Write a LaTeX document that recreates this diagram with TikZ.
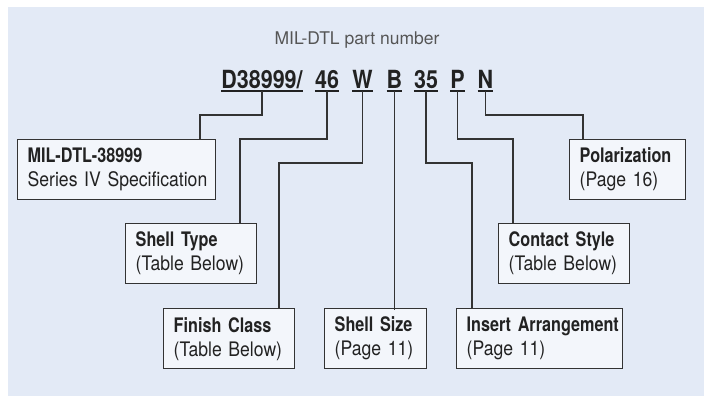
\documentclass[tikz,border=0pt]{standalone}
\usepackage{fontspec}
\setmainfont{TeX Gyre Heros}[FakeStretch=0.88,BoldFeatures={FakeStretch=0.81}]
\newfontfamily\titlefont{TeX Gyre Heros}
\newfontfamily\codefont{TeX Gyre Heros}[FakeStretch=0.86]
\usetikzlibrary{positioning}
\definecolor{panelblue}{RGB}{227,234,246}
\definecolor{boxfill}{RGB}{243,246,251}
\definecolor{linegray}{RGB}{51,51,51}
\definecolor{textdark}{RGB}{34,34,34}
\definecolor{titlegray}{RGB}{85,85,85}
\newcommand{\boxtext}[2]{\mbox{\textbf{#1}}\\\mbox{#2}}

\begin{document}
\begin{tikzpicture}[x=1pt,y=1pt]
  \tikzstyle{pbox}=[rectangle,draw=linegray,line width=1.4pt,fill=boxfill,anchor=north west,minimum height=60pt,inner xsep=10pt,align=left,text=textdark,font=\fontsize{20}{24}\selectfont]
  \tikzstyle{code}=[anchor=base,inner sep=0pt,text=textdark,font=\codefont\fontsize{25}{30}\selectfont\bfseries]
  \tikzstyle{link}=[draw=linegray,line width=1.4pt]
  \tikzstyle{uline}=[draw=textdark,line width=2pt]
  \useasboundingbox (0,0) rectangle (704,396);
  \fill[panelblue] (8,0) rectangle (704,389);
  \node[anchor=base,text=titlegray,font=\titlefont\fontsize{17.5}{20}\selectfont] (title) at (357,351) {MIL-DTL part number};
  % part number fields
  \node[code] (prefix) at (262,307) {D38999/};
  \node[code] (typecode) at (327,307) {46};
  \node[code] (finishcode) at (362.5,307) {W};
  \node[code] (sizecode) at (394.5,307) {B};
  \node[code] (insertcode) at (426,307) {35};
  \node[code] (contactcode) at (457.5,307) {P};
  \node[code] (polarcode) at (485.5,307) {N};
  \foreach \n in {prefix,typecode,finishcode,sizecode,insertcode,contactcode,polarcode}
    \draw[uline] ([yshift=-2.5pt]\n.base west) -- ([yshift=-2.5pt]\n.base east);
  % description boxes
  \node[pbox,text width=178pt] (spec) at (17,257) {\boxtext{MIL-DTL-38999}{Series IV Specification}};
  \node[pbox,text width=111pt] (shelltype) at (125,173) {\boxtext{Shell Type}{(Table Below)}};
  \node[pbox,text width=111pt] (finish) at (163,88) {\boxtext{Finish Class}{(Table Below)}};
  \node[pbox,text width=82pt] (shellsize) at (324,88) {\boxtext{Shell Size}{(Page 11)}};
  \node[pbox,text width=146pt] (insert) at (456,88) {\boxtext{Insert Arrangement}{(Page 11)}};
  \node[pbox,text width=111pt] (contact) at (498,173) {\boxtext{Contact Style}{(Table Below)}};
  \node[pbox,text width=96pt] (polar) at (569,257) {\boxtext{Polarization}{(Page 16)}};
  % connectors
  \draw[link] ([yshift=-2.5pt]prefix.base) -- ++(0,-23.5) -| ([xshift=183pt]spec.north west);
  \draw[link] ([yshift=-2.5pt]typecode.base) -- ++(0,-47.5) -| ([xshift=115pt]shelltype.north west);
  \draw[link] ([yshift=-2.5pt]finishcode.base) -- ++(0,-71.5) -| ([xshift=116pt]finish.north west);
  \draw[link] ([yshift=-2.5pt]sizecode.base) -- ([yshift=-2.5pt]sizecode.base |- shellsize.north);
  \draw[link] ([yshift=-2.5pt]insertcode.base) -- ++(0,-71.5) -| ([xshift=16pt]insert.north west);
  \draw[link] ([yshift=-2.5pt]contactcode.base) -- ++(0,-47.5) -| ([xshift=15pt]contact.north west);
  \draw[link] ([yshift=-2.5pt]polarcode.base) -- ++(0,-23.5) -| ([xshift=14pt]polar.north west);
\end{tikzpicture}
\end{document}
